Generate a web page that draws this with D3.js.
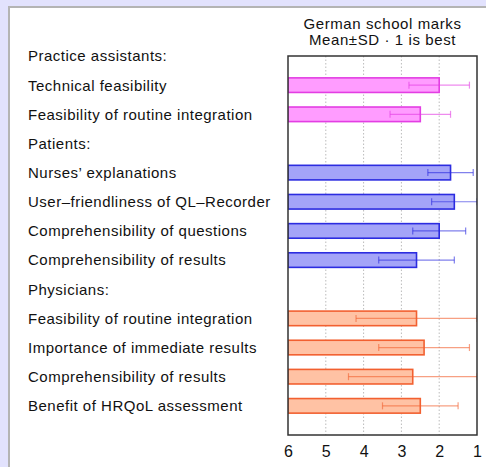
<!DOCTYPE html>
<html>
<head>
<meta charset="utf-8">
<script src="https://cdn.jsdelivr.net/npm/d3@7"></script>
<style>
body { margin: 0; background: #e2e2fd; }
text { font-family: "Liberation Sans", Arial, sans-serif; fill: #111; }
</style>
</head>
<body>
<div id="chart"></div>
<script>
// rows top to bottom, headers have no value
var labels = ["Practice assistants:", "Technical feasibility", "Feasibility of routine integration",
	"Patients:", "Nurses\u2019 explanations", "User\u2013friendliness of QL\u2013Recorder",
	"Comprehensibility of questions", "Comprehensibility of results",
	"Physicians:", "Feasibility of routine integration", "Importance of immediate results",
	"Comprehensibility of results", "Benefit of HRQoL assessment"];
var group = [null, "pa", "pa", null, "pt", "pt", "pt", "pt", null, "ph", "ph", "ph", "ph"];
var means = [null, 2.0, 2.5, null, 1.7, 1.6, 2.0, 2.6, null, 2.6, 2.4, 2.7, 2.5];
var sds = [null, 0.8, 0.8, null, 0.6, 0.6, 0.7, 1.0, null, 1.6, 1.2, 1.7, 1.0];
var ticks = [6, 5, 4, 3, 2, 1];

var colors = {
	pa: {fill: "#ff9cff", stroke: "#e33ee3"},
	pt: {fill: "#a4a4f8", stroke: "#2c2ce0"},
	ph: {fill: "#ffc2a4", stroke: "#f26030"}
};

var width = 486, height = 467;
var margin = {top: 56, left: 288, right: 9, bottom: 32};

var svg = d3.select("#chart").append("svg")
	.attr("width", width)
	.attr("height", height);

// white panel
svg.append("rect")
	.attr("x", 9).attr("y", 7)
	.attr("width", width).attr("height", height)
	.style("fill", "white")
	.style("stroke", "#b4b4b4")
	.style("stroke-width", 2);

var xscale = d3.scaleLinear().domain([6, 1]).range([margin.left, width - margin.right]);
var yscale = d3.scaleLinear().domain([0, 13]).range([margin.top, height - margin.bottom]);

var data = [];
labels.forEach(function(d, i){
	data.push({label: d, group: group[i], mean: means[i], sd: sds[i], row: i});
});

// grid
svg.append("g").selectAll("line")
	.data(ticks.slice(1, -1)).enter()
	.append("line")
	.attr("x1", function(d){ return xscale(d); })
	.attr("x2", function(d){ return xscale(d); })
	.attr("y1", yscale(0)).attr("y2", yscale(13))
	.style("stroke", "#bbb")
	.style("stroke-dasharray", "1.5,2");

// labels
svg.append("g").selectAll("text")
	.data(data).enter()
	.append("text")
	.attr("x", 28)
	.attr("y", function(d){ return yscale(d.row); })
	.attr("dy", "0.36em")
	.style("font-size", "15px")
	.style("letter-spacing", "0.5px")
	.text(function(d){ return d.label; });

var vals = data.filter(function(d){ return d.mean != null; });
var bh = yscale(0.5) - yscale(0);

svg.append("defs").append("clipPath").attr("id", "clip")
	.append("rect")
	.attr("x", xscale(6)).attr("y", yscale(0))
	.attr("width", xscale(1) - xscale(6)).attr("height", yscale(13) - yscale(0));

var plot = svg.append("g").attr("clip-path", "url(#clip)");

plot.selectAll("rect.bar")
	.data(vals).enter()
	.append("rect")
	.attr("class", "bar")
	.attr("x", xscale(6))
	.attr("y", function(d){ return yscale(d.row) - bh / 2; })
	.attr("width", function(d){ return xscale(d.mean) - xscale(6); })
	.attr("height", bh)
	.style("fill", function(d){ return colors[d.group].fill; })
	.style("stroke", function(d){ return colors[d.group].stroke; })
	.style("stroke-width", 1.6);

var err = plot.selectAll("g.err")
	.data(vals).enter()
	.append("g")
	.attr("class", "err")
	.style("stroke", function(d){ return colors[d.group].stroke; })
	.style("stroke-opacity", 0.6)
	.style("stroke-width", 1.2);

err.append("line")
	.attr("x1", function(d){ return xscale(d.mean + d.sd); })
	.attr("x2", function(d){ return xscale(d.mean - d.sd); })
	.attr("y1", function(d){ return yscale(d.row); })
	.attr("y2", function(d){ return yscale(d.row); });

[1, -1].forEach(function(s){
	err.append("line")
		.attr("x1", function(d){ return xscale(d.mean + s * d.sd); })
		.attr("x2", function(d){ return xscale(d.mean + s * d.sd); })
		.attr("y1", function(d){ return yscale(d.row) - 3.5; })
		.attr("y2", function(d){ return yscale(d.row) + 3.5; });
});

// frame
svg.append("rect")
	.attr("x", xscale(6)).attr("y", yscale(0))
	.attr("width", xscale(1) - xscale(6)).attr("height", yscale(13) - yscale(0))
	.style("fill", "none")
	.style("stroke", "#333")
	.style("stroke-width", 1.5);

var xAxis = d3.axisBottom(xscale).tickValues(ticks).tickFormat(d3.format("d")).tickSize(0).tickPadding(11);
var ax = svg.append("g")
	.attr("transform", "translate(0," + yscale(13) + ")")
	.call(xAxis);
ax.select(".domain").remove();
ax.selectAll("text")
	.style("font-size", "16px")
	.style("font-family", "Liberation Sans, Arial, sans-serif")
	.style("fill", "#111");

var cx = (xscale(6) + xscale(1)) / 2;
svg.append("text").attr("x", cx).attr("y", 29)
	.style("text-anchor", "middle").style("font-size", "15px")
	.style("letter-spacing", "0.6px")
	.text("German school marks");
svg.append("text").attr("x", cx).attr("y", 45)
	.style("text-anchor", "middle").style("font-size", "15px")
	.style("letter-spacing", "0.6px")
	.text("Mean\u00b1SD \u00b7 1 is best");
</script>
</body>
</html>
